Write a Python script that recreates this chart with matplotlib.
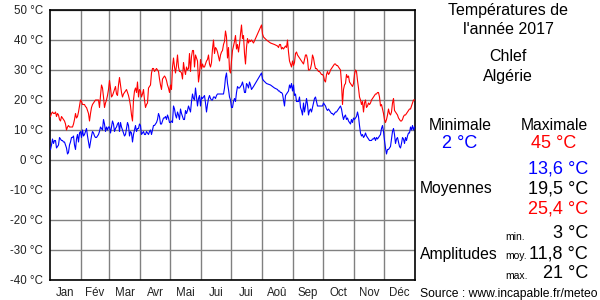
import numpy as np
import matplotlib
matplotlib.use("Agg")
import matplotlib.pyplot as plt

plt.rcParams['font.family'] = ['Liberation Sans', 'DejaVu Sans']

nan = np.nan

# daily maxima (°C), one list per month
tmax_months = [
    [14.5, 15.5, 16, 15.5, 15.5, 16, 14.5, 15.5, 15, 13.5, 13, 14.5, 14, 13.5, 13, 12, 10, 11, 11.5, 11,
     11, 11, 11, 12, 13.5, 15.5, 14, 14.5, 16, 18, 20],
    [19.5, 18.5, 18.5, 18.5, 17.8, 17.5, 16.5, 15.5, 13, 15.5, 17.5, 18.5, 19, 19.5, 20, 20, 20, 20, 17.5,
     21.5, 25, 24, 21, 17.5, 19, 20, 21.5, 23.5],
    [26.5, 24, 21, 21.5, 22.5, 23.5, 24.5, 22, 21.5, 25, 27.5, 25, 22.5, 21, 22, 22.5, 23, 23.5, 22.5, 21.5,
     20, 18, 15, 13, 20, 23, 24, 22.5, 26, 21, 23.5],
    [23, 21, 22, 23.5, 20, 17.5, 18.5, 19, 24, 24.5, 25, 29, 30.5, 30.5, 29.5, 30, 30.5, 30, 29.5, 27,
     25, 23.5, 27, 27.5, 28, 27.5, 26.5, 25, 24, 22.5],
    [25, 23.5, 31, 34, 31, 29, 31.5, 35, 31, 29.5, 29.5, 29, 27, 32.5, 30, 28.5, 31, 30, 30.5, 35.5,
     29.5, 34.5, 36.5, 36.5, 31, 35, 34, 33, 26, 28.5, 33.5],
    [30.5, 32, 31, 31, 32, 33, 33.5, 35, 32, 31, 32.5, 37, 40, 35.5, 37.5, 37, 36, 34.5, 33, 35,
     36, 36.5, 38.5, 39.5, 43, 41, 34, 37.5, 30, 29],
    [33, 36.5, 38, 39.5, 41.5, 37, 38.5, 36, 38.5, 42, 45, 40.5, 41.5, 35.5, 32, 37.5, 40.5, 39, 40, 39.5,
     40, 39.5, 39, nan, nan, nan, nan, nan, nan, nan, 45],
    [42, 41, nan, nan, 40, nan, nan, nan, 39, nan, nan, nan, 38.5, nan, nan, 38, 37.5, 38.5, 38.5, 37,
     37.5, 37, 37.5, 38, 37.5, 40, 36, 33, 32, 31, 33],
    [31.5, 32.5, 35.5, 36, 35, 34.5, 34, 33.5, 33, 32.5, 32, 33.5, 35, 35, 33.5, 30, 30, 30.5, 32, 35,
     34, 32, 30.5, 30.5, 30, 29.5, 29.5, 29, 28.5, 28.5],
    [28, 26.5, 26, 28.5, 29.5, 28.5, 29, 30, 30.5, 31, 31.5, 32, 32, 31.5, 31.5, 31, 30.5, 30, 25.5, 18.5,
     23.5, 25, 25.5, 28.5, 27.5, 28, 26, 25.5, 25, 24.5, 25.5],
    [28.5, 30, 29.5, 26.5, 24, 21, 20, 18.5, 19.5, 16, 19, 20, 17.5, 18, 19, 18.5, 19, 20, 20.5, 21,
     21.5, 22, 22, 22.5, 22.5, 21, 18, 18.5, 17, 15.5],
    [13.5, 12.5, 13.5, 15, 17, 15.5, 15, 16, 19, 20.5, 16.5, 16, 15.5, 15, 14, 13.5, 13, 13, 13.5, 14.5,
     15, 15, 15.5, 16, 16.5, 17, 17, 18, 19, 20, 20],
]

# daily minima (°C)
tmin_months = [
    [3.5, 5, 7, 5.5, 6.5, 6.5, 4, 4.5, 5, 7.5, 7, 6.5, 6.5, 6, 6, 5, 4, 2, 2.5, 5,
     6, 7.5, 7.5, 8, 5, 3.5, 7, 8.5, 6, 9, 9.5],
    [7.5, 10, 8, 8.5, 9.5, 10.5, 8, 6, 4, 6, 8, 9.5, 9, 8, 7.5, 7.5, 8, 8.5, 9.5, 11,
     10.5, 10, 13.5, 12, 9.5, 11, 10, 11],
    [11, 9, 11, 13, 12, 9.5, 10.5, 11, 12, 12.5, 9.5, 12.5, 11, 10, 9, 8, 8.5, 10.5, 12.5, 11.5,
     8, 9.5, 9, 6, 8.5, 10, 11.5, 9.5, 10.5, 10.5, 12],
    [11.5, 8.5, 9, 9.5, 8.5, 8.5, 9.5, 9, 8.5, 9.5, 10, 8.5, 10, 11.5, 11.5, 12, 12.5, 13.5, 15.5, 14.5,
     12, 12, 13, 14, 14, 14.5, 13.5, 15, 14, 12.5],
    [12.5, 13, 12.5, 18, 17, 15, 14, 16, 15, 13.5, 17, 15.5, 14.5, 13.5, 13.5, 16.5, 15.5, 16.5, 18, 17,
     16, 19.5, 22, 20.5, 20, 24, 21, 18, 20.5, 21.5, 18],
    [21, 20.5, 21, 21.5, 19, 16, 18.5, 20.5, 21.5, 20.5, 20, 20, 21, 21, 20.5, 21.5, 22, 22, 22, 22,
     22, 22, 22, 24, 27.5, 29, 25.5, 23.5, 21, 20],
    [17.5, 17.5, 19.5, 20.5, 19.5, 22.5, 24.5, 24, 24, 24.5, 25, 26, 24.5, 22.5, 22.5, 25.5, 25, 24, 26, 25,
     23.5, 24, 24.5, nan, nan, nan, nan, nan, nan, nan, 29],
    [27, 26.5, nan, nan, 25.5, nan, nan, nan, 25, nan, nan, nan, 24, nan, nan, 23.5, 23, 23, 22.5, 22.5,
     22, 20, 18, 21.5, 22, 22.5, 23, 25, 24, 25.5, 23],
    [25, 21.5, 22, 19.5, 19.5, 19.5, 21, 17.5, 16.5, 15, 19, 16, 18, 20.5, 18.5, 15, 16.5, 17, 16, 17.5,
     19, 20.5, 21, 19.5, 18, 18, 18, 18, 18, 18],
    [19, 18.5, 18, 17, 16.5, 17, 16.5, 16, 15.5, 15.5, 15, 15.5, 16, 16, 16.5, 17, 17.5, 18, 17, 15,
     13.5, 14.5, 15, 13.5, 14, 13, 12.5, 12, 13.5, 12.5, 14],
    [13.5, 14, 14.5, 16, 14.5, 11.5, 9, 8, 8.5, 7.5, 8, 9, 8, 7.5, 7, 6.5, 6.5, 6.5, 7, 7,
     7.5, 6.5, 7.5, 7, 7.5, 8, 8.5, 10.5, 11.5, 9.5],
    [6.5, 4, 2, 3.5, 3.5, 4, 4.5, 7, 9.5, 10.5, 8.5, 5.5, 7, 7.5, 6, 4.5, 4, 5.5, 7.5, 7,
     5.5, 7.5, 6.5, 8, 9, 9, 11, 10, 11.5, 10, 11],
]

month_names = ["Jan", "Fév", "Mar", "Avr", "Mai", "Jui", "Jui", "Aoû", "Sep", "Oct", "Nov", "Déc"]
month_lengths = [31, 28, 31, 30, 31, 30, 31, 31, 30, 31, 30, 31]
y_ticks = [-40, -30, -20, -10, 0, 10, 20, 30, 40, 50]

tmax = np.array([v for m in tmax_months for v in m], dtype=float)
tmin = np.array([v for m in tmin_months for v in m], dtype=float)
days = np.arange(len(tmax)) + 0.5

W, H = 600, 300
fig = plt.figure(figsize=(W / 100, H / 100), dpi=100)
ax = fig.add_axes([50 / W, 20 / H, 365 / W, 270 / H])

ok = ~np.isnan(tmax)
ax.plot(days[ok], tmax[ok], color='#ff0000', lw=0.8, zorder=3)
ok = ~np.isnan(tmin)
ax.plot(days[ok], tmin[ok], color='#0000ff', lw=0.8, zorder=3)

ax.set_xlim(0, 365)
ax.set_ylim(-40, 50)

starts = np.cumsum([0] + month_lengths)
ax.set_xticks(starts[1:-1])
ax.set_xticklabels([])
ax.set_xticks(starts[:-1] + np.array(month_lengths) / 2, minor=True)
ax.set_xticklabels(month_names, minor=True)
ax.set_yticks(y_ticks)
ax.set_yticklabels([f"{t} °C" for t in y_ticks])
ax.tick_params(which='both', length=0, labelsize=8.3, colors='#222222')
ax.tick_params(axis='y', pad=5)
ax.tick_params(axis='x', which='minor', pad=5)
ax.grid(True, which='major', color='#808080', lw=1.0)
for s in ax.spines.values():
    s.set_color('black')
    s.set_linewidth(1.2)


def put(x, y, s, size=11, color='black', ha='center'):
    fig.text(x / W, 1 - y / H, s, fontsize=size, color=color, ha=ha, va='center')


put(508, 10, "Températures de", 11.5)
put(508, 30, "l'année 2017", 11.5)
put(508, 57, "Chlef", 11.5)
put(508, 77, "Algérie", 11.5)
put(460, 125, "Minimale", 11.3)
put(554, 125, "Maximale", 11.3)
put(460, 144, "2 °C", 13, '#0000ff')
put(554, 144, "45 °C", 13, '#ff0000')
put(588, 169, "13,6 °C", 13, '#0000ff', 'right')
put(588, 189, "19,5 °C", 13, 'black', 'right')
put(588, 209, "25,4 °C", 13, '#ff0000', 'right')
put(420, 189, "Moyennes", 11.3, ha='left')
put(505, 237, "min.", 7.5, ha='left')
put(505, 256, "moy.", 7.5, ha='left')
put(505, 276, "max.", 7.5, ha='left')
put(588, 234, "3 °C", 13, ha='right')
put(588, 254, "11,8 °C", 13, ha='right')
put(588, 274, "21 °C", 13, ha='right')
put(420, 254, "Amplitudes", 11.3, ha='left')
put(420, 294, "Source : www.incapable.fr/meteo", 8.7, ha='left')

fig.savefig("out.png", dpi=100)
